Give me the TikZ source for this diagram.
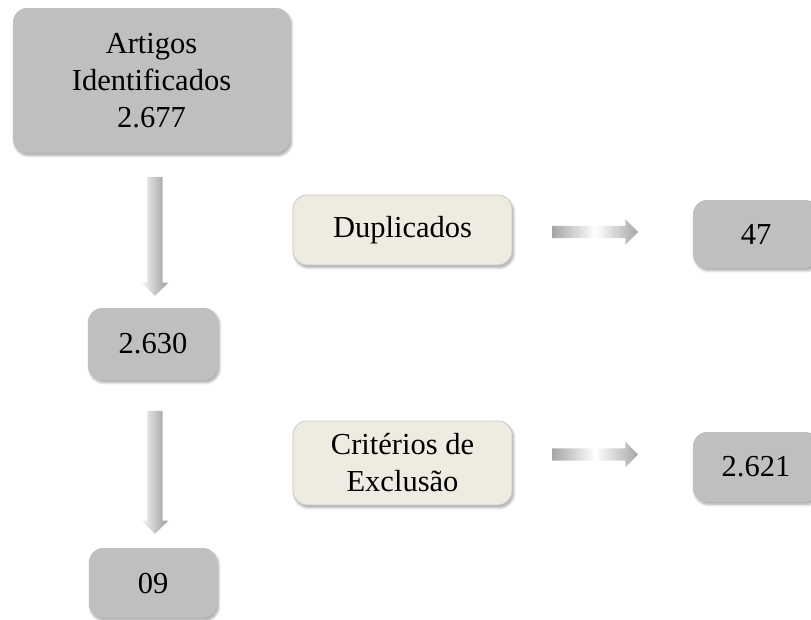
\documentclass[tikz,border=0pt]{standalone}
\usepackage{fontspec}
\setmainfont{Liberation Serif}
\usetikzlibrary{shapes.arrows, shadows.blur}
\definecolor{boxgray}{HTML}{BFBFBF}
\definecolor{boxbeige}{HTML}{EEECE1}
\definecolor{beigeline}{HTML}{C8C8C8}

\begin{document}
\begin{tikzpicture}[x=1pt, y=-1pt, font=\fontsize{30.5}{37}\selectfont,
    numbox/.style={rounded corners=14pt, fill=boxgray, align=center, inner sep=0pt,
        blur shadow={shadow xshift=1.5pt, shadow yshift=-2.5pt, shadow blur steps=6,
            shadow blur radius=2.5pt, shadow opacity=35}},
    critbox/.style={numbox, fill=boxbeige, draw=beigeline, line width=0.8pt},
    downarrow/.style={single arrow, rotate=-90, inner xsep=0pt, inner ysep=7.5pt,
        single arrow head extend=5.5pt, left color=gray!8, right color=gray!80},
    sidearrow/.style={single arrow, inner xsep=0pt, inner ysep=6pt, minimum height=86pt,
        single arrow head extend=6.5pt, left color=gray!70, right color=gray!70, middle color=white}]
    \useasboundingbox (0,0) rectangle (811,619);
    % boxes
    \node[numbox, minimum width=277pt, minimum height=145pt] (ident) at (151.5,80.5)
        {Artigos\\Identificados\\2.677};
    \node[numbox, minimum width=130pt, minimum height=72pt] (b2630) at (153,344) {2.630};
    \node[numbox, minimum width=128pt, minimum height=70pt] (b09) at (153,583) {09};
    \node[critbox, minimum width=219pt, minimum height=70pt] (dup) at (402.5,230) {Duplicados};
    \node[critbox, minimum width=219pt, minimum height=84pt] (crit) at (402.5,463)
        {Critérios de\\Exclusão};
    \node[numbox, minimum width=126pt, minimum height=68pt] (b47) at (756,234) {47};
    \node[numbox, minimum width=126pt, minimum height=70pt] (b2621) at (756,467) {2.621};
    % arrows
    \node[downarrow, minimum height=119pt] (a1) at (155,232.5) {};
    \node[downarrow, minimum height=123pt] (a2) at (155,468.5) {};
    \node[sidearrow] (a3) at (592,232) {};
    \node[sidearrow] (a4) at (592,454.5) {};
\end{tikzpicture}
\end{document}
